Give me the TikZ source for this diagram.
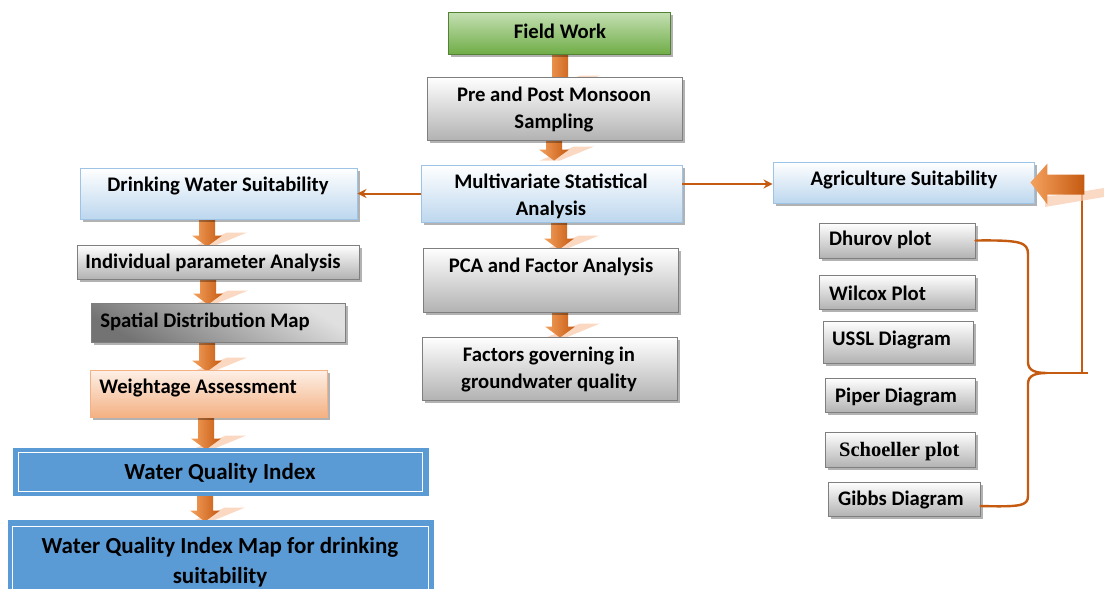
\documentclass[tikz,border=0pt]{standalone}
\usepackage{fontspec}
\setmainfont{Carlito}
\newfontfamily\serifb{Liberation Serif}
\usetikzlibrary{shadows,calc,arrows.meta,fit,backgrounds}
\definecolor{orA}{HTML}{ED7D31}
\definecolor{orL}{HTML}{F4A15E}
\definecolor{orD}{HTML}{C55A11}
\definecolor{pinkS}{HTML}{F8CBAD}
\definecolor{blueL}{HTML}{BDD7EE}
\definecolor{blueB}{HTML}{9DC3E6}
\definecolor{grayB}{HTML}{7F7F7F}
\definecolor{greenT}{HTML}{C5E0B4}
\definecolor{greenB}{HTML}{70AD47}
\definecolor{greenD}{HTML}{548235}
\definecolor{peachT}{HTML}{FDF0E7}
\definecolor{peachB}{HTML}{F4B183}
\definecolor{wqiC}{HTML}{5B9BD5}
\tikzset{
  base/.style={draw, line width=0.9pt, inner sep=0pt,
    drop shadow={shadow xshift=2.5pt, shadow yshift=-2.5pt, fill=black, opacity=0.3}},
  graybox/.style={base, draw=grayB, top color=white, bottom color=black!30},
  darkbox/.style={base, draw=grayB, shading=axis, top color=black!12, bottom color=black!55, shading angle=-30},
  bluebox/.style={base, draw=blueB, top color=white, bottom color=blueL},
  greenbox/.style={base, draw=greenD, top color=greenT, bottom color=greenB},
  peachbox/.style={base, draw=peachB, top color=peachT, bottom color=peachB},
  wqibox/.style={draw=wqiC, fill=wqiC, line width=0.9pt, inner sep=0pt},
  txt/.style={font=\bfseries\fontsize{20.7}{27}\selectfont, align=center, inner sep=0pt},
  btxt/.style={font=\bfseries\fontsize{23}{30}\selectfont, align=center, inner sep=0pt},
  stxt/.style={font=\bfseries\fontsize{20.7}{22}\selectfont, inner sep=0pt, anchor=west},
  thinarr/.style={draw=orD, line width=2pt, -{Stealth[length=9pt,width=9pt]}},
  brace/.style={draw=orD, line width=2.4pt, line cap=round, line join=round},
}
\newcommand\bx[6]{\node[#1, fit={(#3,#4) (#5,#6)}] (#2) {};}
% block arrow: from node, to node, x (px), overshoot of tip (px)
\newcommand\barrow[4]{%
  \fill[pinkS, opacity=0.75] let \p1=(#1.south), \p2=(#2.north), \p3=(#3,#4) in
    (\x3-14pt,\y2+\y3) -- (\x3+6pt,\y2+\y3) -- (\x3+40pt,\y2+\y3+14pt) -- (\x3+20pt,\y2+\y3+14pt) -- cycle;
  \shade[left color=orL, right color=orD] let \p1=(#1.south), \p2=(#2.north), \p3=(#3,#4) in
    (\x3-8pt,\y1) -- (\x3+8pt,\y1) -- (\x3+8pt,\y2+\y3+11pt) -- (\x3+15pt,\y2+\y3+11pt) --
    (\x3,\y2+\y3) -- (\x3-15pt,\y2+\y3+11pt) -- (\x3-8pt,\y2+\y3+11pt) -- cycle;
}
\begin{document}
\begin{tikzpicture}[x=1pt,y=-1pt]
\useasboundingbox (0,0) rectangle (1104,589);
% ---------- boxes ----------
\bx{greenbox}{fw}{448}{12}{670}{54}
\bx{graybox}{pre}{427}{77}{682}{140}
\bx{bluebox}{ms}{421}{165}{682}{222}
\bx{bluebox}{dw}{80}{168}{357}{219}
\bx{bluebox}{ag}{773}{162}{1034}{203}
\bx{graybox}{pca}{423}{248}{678}{312}
\bx{graybox}{fac}{422}{337}{677}{400}
\bx{graybox}{ip}{77}{245}{359}{279}
\bx{darkbox}{sd}{91}{303}{345}{342}
\bx{peachbox}{wa}{90}{370}{327}{417}
\bx{wqibox}{wqi}{13}{448}{428}{495}
\bx{wqibox}{map}{8}{520}{433}{610}
\bx{graybox}{dh}{819}{223}{975}{258}
\bx{graybox}{wc}{819}{275}{975}{309}
\bx{graybox}{us}{823}{321}{973}{363}
\bx{graybox}{pp}{825}{378}{975}{412}
\bx{graybox}{sc}{825}{432}{975}{467}
\bx{graybox}{gb}{828}{482}{980}{516}
\draw[white, line width=1.4pt] ($(wqi.north west)+(6,5)$) rectangle ($(wqi.south east)+(-6,-4)$);
\draw[white, line width=1.4pt] ($(map.north west)+(5,7)$) rectangle ($(map.south east)+(-5,-5)$);
% ---------- block arrows (behind boxes) ----------
\begin{pgfonlayer}{background}
\barrow{fw}{pre}{560}{13}
\barrow{pre}{ms}{554}{-4}
\barrow{ms}{pca}{559}{2}
\barrow{pca}{fac}{560}{1}
\barrow{dw}{ip}{207}{2}
\barrow{ip}{sd}{208}{2}
\barrow{sd}{wa}{207}{2}
\barrow{wa}{wqi}{206}{2}
\barrow{wqi}{map}{205}{2}
\end{pgfonlayer}
% ---------- texts ----------
\node[txt] (t-fw) at (560,31) {Field Work};
\node[txt] (t-pre) at (554,109) {Pre and Post Monsoon\\Sampling};
\node[txt] (t-ms) at (551,196) {Multivariate Statistical\\Analysis};
\node[txt] (t-dw) at (218,186) {Drinking Water Suitability};
\node[txt] (t-ag) at (904,180) {Agriculture Suitability};
\node[txt] (t-ip) at (213,263) {Individual parameter Analysis};
\node[txt] (t-sd) at (205,322) {Spatial Distribution Map};
\node[txt] (t-wa) at (198,388) {Weightage Assessment};
\node[btxt] (t-wqi) at (220,473) {Water Quality Index};
\node[btxt] (t-map) at (220,562) {Water Quality Index Map for drinking\\suitability};
\node[txt] (t-pca) at (551,267) {PCA and Factor Analysis};
\node[txt] (t-fac) at (549,369) {Factors governing in\\groundwater quality};
\node[stxt] (t-dh) at (829,240) {Dhurov plot};
\node[stxt] (t-wc) at (829,293) {Wilcox Plot};
\node[stxt] (t-us) at (832,340) {USSL Diagram};
\node[stxt] (t-pp) at (835,397) {Piper Diagram};
\node[stxt, font=\serifb\bfseries\fontsize{20.5}{22}\selectfont] (t-sc) at (839,452) {Schoeller plot};
\node[stxt] (t-gb) at (838,500) {Gibbs Diagram};
% ---------- thin connectors ----------
\draw[thinarr] (ms.west) -- (dw.east);
\draw[thinarr] ($(ms.east |- ag.west)+(0,1.5)$) -- ($(ag.west)+(0,1.5)$);
% ---------- brace and return arrow ----------
\coordinate (cusp) at (1047,373);
\coordinate (ja) at (1082,194);
\draw[brace] (dh.east) .. controls (1020,240) and (1028,242) .. (1028,254) -- (1028,362)
   .. controls (1028,371) and (1036,373) .. (cusp)
   .. controls (1036,373) and (1028,375) .. (1028,384) -- (1028,496)
   .. controls (1028,506) and (1020,507) .. ($(gb.east)+(0,7)$);
\draw[brace, line cap=butt] (ja) -- (ja |- cusp);
\draw[brace, line cap=butt] (cusp) -- ++(41,0);
\fill[pinkS, opacity=0.7] (1045,207) -- (1104,197) -- (1104,188) -- (1060,195) -- (1045,196) -- cycle;
\shade[left color=orL, right color=orD] let \p1=(ag.east) in
  (\x1-4pt,\y1) -- (\x1+13pt,\y1+19pt) -- (\x1+13pt,\y1+8pt) -- (\x1+50pt,\y1+8pt)
  -- (\x1+50pt,\y1-12pt) -- (\x1+13pt,\y1-12pt) -- (\x1+13pt,\y1-22pt) -- cycle;
\end{tikzpicture}
\end{document}
